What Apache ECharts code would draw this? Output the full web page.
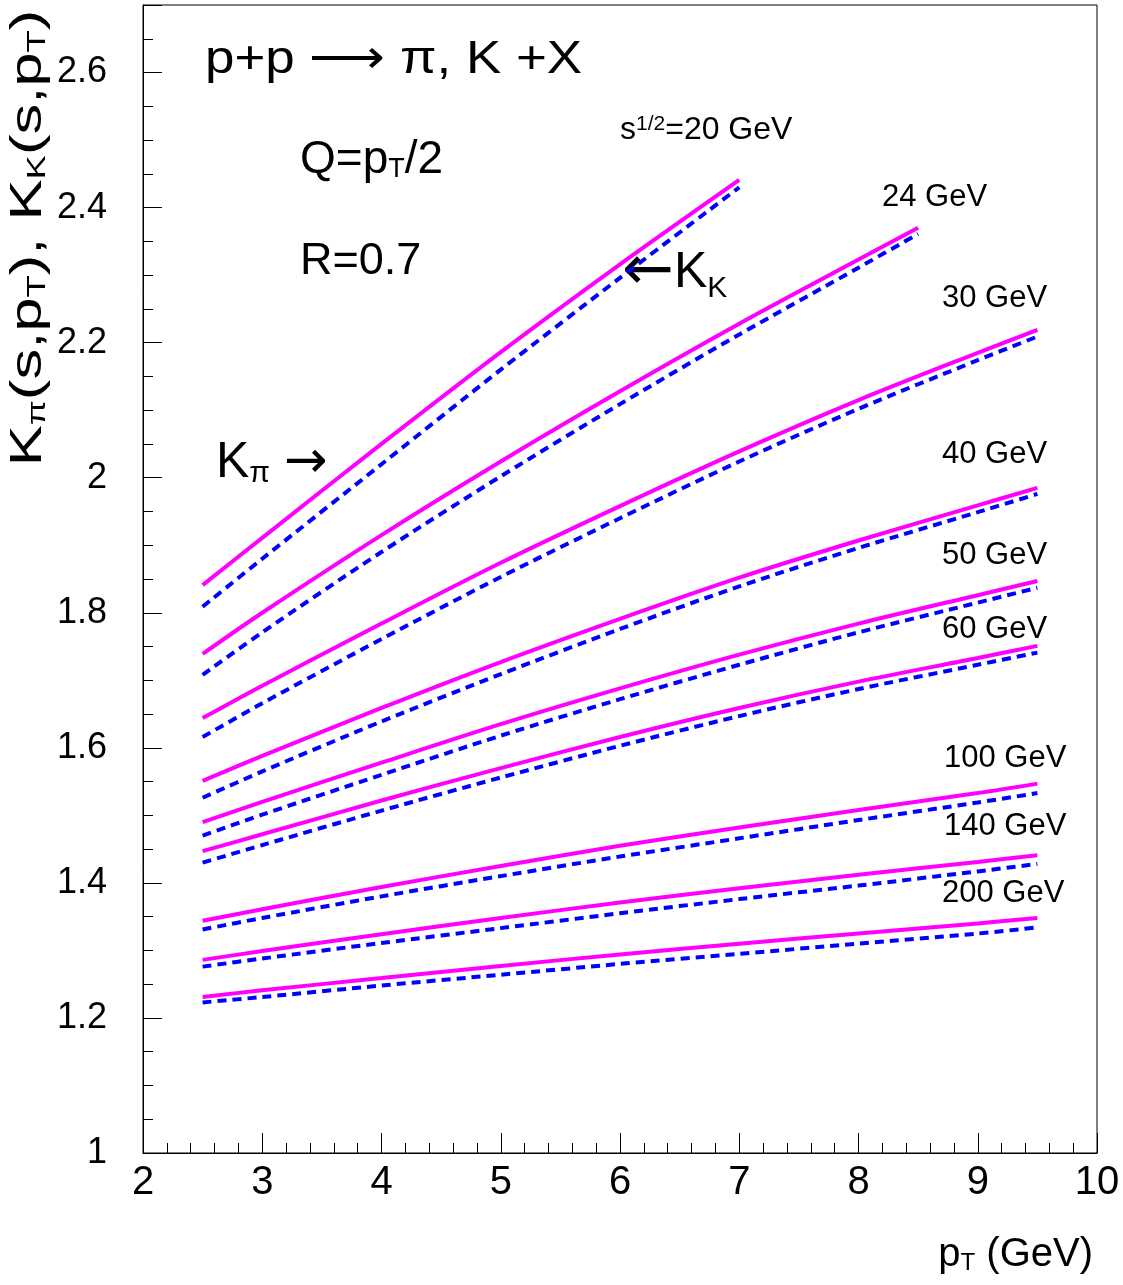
<!DOCTYPE html>
<html>
<head>
<meta charset="utf-8">
<script src="https://cdn.jsdelivr.net/npm/echarts@6.0.0/dist/echarts.min.js"></script>
<style>
  html, body { margin: 0; padding: 0; background: #fff; }
  #chart { width: 1123px; height: 1285px; }
</style>
</head>
<body>
<div id="chart"></div>
<script>
// pT grid of the curves (GeV)
const ptTo7 = [2.5, 3, 4, 5, 6, 7]
const ptTo85 = [2.5, 3, 4, 5, 6, 7, 8, 8.5]
const ptTo95 = [2.5, 3, 4, 5, 6, 7, 8, 9, 9.5]

// K_pi (solid magenta) and K_K (dashed blue), one pair per sqrt(s)
const kPi20 = [1.841, 1.911, 2.050, 2.186, 2.316, 2.441]
const kK20 = [1.809, 1.880, 2.020, 2.160, 2.296, 2.430]
const kPi24 = [1.739, 1.800, 1.915, 2.024, 2.128, 2.228, 2.323, 2.370]
const kK24 = [1.708, 1.771, 1.890, 2.002, 2.109, 2.212, 2.311, 2.361]
const kPi30 = [1.644, 1.692, 1.784, 1.874, 1.958, 2.039, 2.115, 2.185, 2.219]
const kK30 = [1.616, 1.666, 1.761, 1.853, 1.940, 2.024, 2.102, 2.174, 2.209]
const kPi40 = [1.551, 1.588, 1.659, 1.727, 1.791, 1.852, 1.907, 1.959, 1.985]
const kK40 = [1.526, 1.565, 1.639, 1.709, 1.776, 1.839, 1.896, 1.949, 1.976]
const kPi50 = [1.490, 1.520, 1.578, 1.635, 1.688, 1.738, 1.784, 1.826, 1.847]
const kK50 = [1.470, 1.501, 1.560, 1.618, 1.672, 1.723, 1.771, 1.815, 1.837]
const kPi60 = [1.447, 1.472, 1.522, 1.570, 1.616, 1.659, 1.698, 1.733, 1.751]
const kK60 = [1.430, 1.456, 1.507, 1.556, 1.603, 1.647, 1.687, 1.723, 1.741]
const kPi100 = [1.344, 1.361, 1.394, 1.425, 1.455, 1.482, 1.508, 1.533, 1.547]
const kK100 = [1.331, 1.348, 1.380, 1.410, 1.439, 1.466, 1.493, 1.519, 1.533]
const kPi140 = [1.286, 1.299, 1.324, 1.348, 1.371, 1.392, 1.412, 1.431, 1.441]
const kK140 = [1.276, 1.288, 1.311, 1.333, 1.355, 1.376, 1.396, 1.417, 1.428]
const kPi200 = [1.231, 1.241, 1.259, 1.277, 1.294, 1.310, 1.325, 1.340, 1.348]
const kK200 = [1.223, 1.231, 1.248, 1.264, 1.280, 1.295, 1.310, 1.325, 1.334]

const FONT = '"Liberation Sans", Arial, Helvetica, sans-serif'
const NARROW = '"Liberation Sans Narrow", "Liberation Sans", Arial, sans-serif'
const ARROWS = '"DejaVu Sans", sans-serif'

function pair(xs, ys) {
  return xs.map((x, i) => [x, ys[i]])
}

function curve(name, xs, ys, dashed) {
  return {
    name: name,
    type: 'line',
    data: pair(xs, ys),
    showSymbol: false,
    smooth: 0.3,
    silent: true,
    lineStyle: dashed
      ? { color: '#0000ff', width: 4, type: [9, 6] }
      : { color: '#ff00ff', width: 4 }
  }
}

const sub = (size, lh) => ({ fontSize: size, lineHeight: lh, verticalAlign: 'bottom', fontFamily: FONT, fill: '#000' })
const arrow = (size) => ({ fontSize: size, lineHeight: size, fontFamily: ARROWS, fill: '#000' })

function label(x, y, text, size, opts) {
  opts = opts || {}
  return {
    type: 'text',
    x: x,
    y: y,
    rotation: opts.rotation || 0,
    scaleX: opts.scaleX || 1,
    scaleY: opts.scaleY || 1,
    silent: true,
    style: {
      text: text,
      fontSize: size,
      fontFamily: FONT,
      lineHeight: size,
      fill: '#000',
      align: opts.align || 'left',
      textAlign: opts.align || 'left',
      verticalAlign: 'middle',
      textVerticalAlign: 'middle',
      rich: opts.rich || {}
    }
  }
}

const chart = echarts.init(document.getElementById('chart'), null, { renderer: 'canvas' })

chart.setOption({
  animation: false,
  backgroundColor: '#fff',
  grid: {
    left: 143,
    right: 26,
    top: 5,
    bottom: 132,
    show: true,
    borderColor: '#000',
    borderWidth: 1,
    outerBoundsMode: 'none'
  },
  xAxis: {
    type: 'value',
    min: 2,
    max: 10,
    interval: 1,
    axisLine: { lineStyle: { color: '#000', width: 1 } },
    axisTick: { inside: true, length: 20, lineStyle: { color: '#000' } },
    minorTick: { show: true, splitNumber: 5, length: 10, lineStyle: { color: '#000' } },
    splitLine: { show: false },
    axisLabel: { fontSize: 40, fontFamily: NARROW, color: '#000', margin: 10 }
  },
  yAxis: {
    type: 'value',
    min: 1,
    max: 2.7,
    interval: 0.2,
    axisLine: { lineStyle: { color: '#000', width: 1 } },
    axisTick: { inside: true, length: 19, lineStyle: { color: '#000' } },
    minorTick: { show: true, splitNumber: 4, length: 10, lineStyle: { color: '#000' } },
    splitLine: { show: false },
    axisLabel: { fontSize: 36, fontFamily: NARROW, color: '#000', margin: 36, showMaxLabel: false }
  },
  series: [
    curve('20 GeV', ptTo7, kPi20, false),
    curve('20 GeV K', ptTo7, kK20, true),
    curve('24 GeV', ptTo85, kPi24, false),
    curve('24 GeV K', ptTo85, kK24, true),
    curve('30 GeV', ptTo95, kPi30, false),
    curve('30 GeV K', ptTo95, kK30, true),
    curve('40 GeV', ptTo95, kPi40, false),
    curve('40 GeV K', ptTo95, kK40, true),
    curve('50 GeV', ptTo95, kPi50, false),
    curve('50 GeV K', ptTo95, kK50, true),
    curve('60 GeV', ptTo95, kPi60, false),
    curve('60 GeV K', ptTo95, kK60, true),
    curve('100 GeV', ptTo95, kPi100, false),
    curve('100 GeV K', ptTo95, kK100, true),
    curve('140 GeV', ptTo95, kPi140, false),
    curve('140 GeV K', ptTo95, kK140, true),
    curve('200 GeV', ptTo95, kPi200, false),
    curve('200 GeV K', ptTo95, kK200, true)
  ],
  graphic: [
    label(205, 60, 'p+p ⟶ π, K +X', 46, { scaleX: 1.15 }),
    label(300, 160, 'Q=p{t|T}/2', 46, { rich: { t: sub(27, 17) } }),
    label(300, 262, 'R=0.7', 45),
    label(620, 130, 's{s|1/2}=20 GeV', 32, {
      rich: { s: { fontSize: 21, lineHeight: 15, verticalAlign: 'top', fontFamily: FONT, fill: '#000' } }
    }),
    label(882, 197, '24 GeV', 31),
    label(942, 298, '30 GeV', 31),
    label(942, 454, '40 GeV', 31),
    label(942, 555, '50 GeV', 31),
    label(942, 629, '60 GeV', 31),
    label(944, 758, '100 GeV', 31),
    label(944, 826, '140 GeV', 31),
    label(942, 893, '200 GeV', 31),
    label(216, 463, 'K{t|π} {a|→}', 50, { rich: { t: sub(30, 18), a: arrow(52) } }),
    label(622, 273, '{a|←}K{t|K}', 50, { rich: { t: sub(30, 18), a: arrow(62) } }),
    label(1093, 1255, 'p{t|T} (GeV)', 40, { align: 'right', rich: { t: sub(24, 16) } }),
    label(29, 238, 'K{t|π}(s,p{t|T}), K{t|K}(s,p{t|T})', 44, {
      align: 'center',
      rotation: Math.PI / 2,
      scaleX: 1.4,
      rich: { t: sub(26, 17) }
    })
  ]
})
</script>
</body>
</html>
